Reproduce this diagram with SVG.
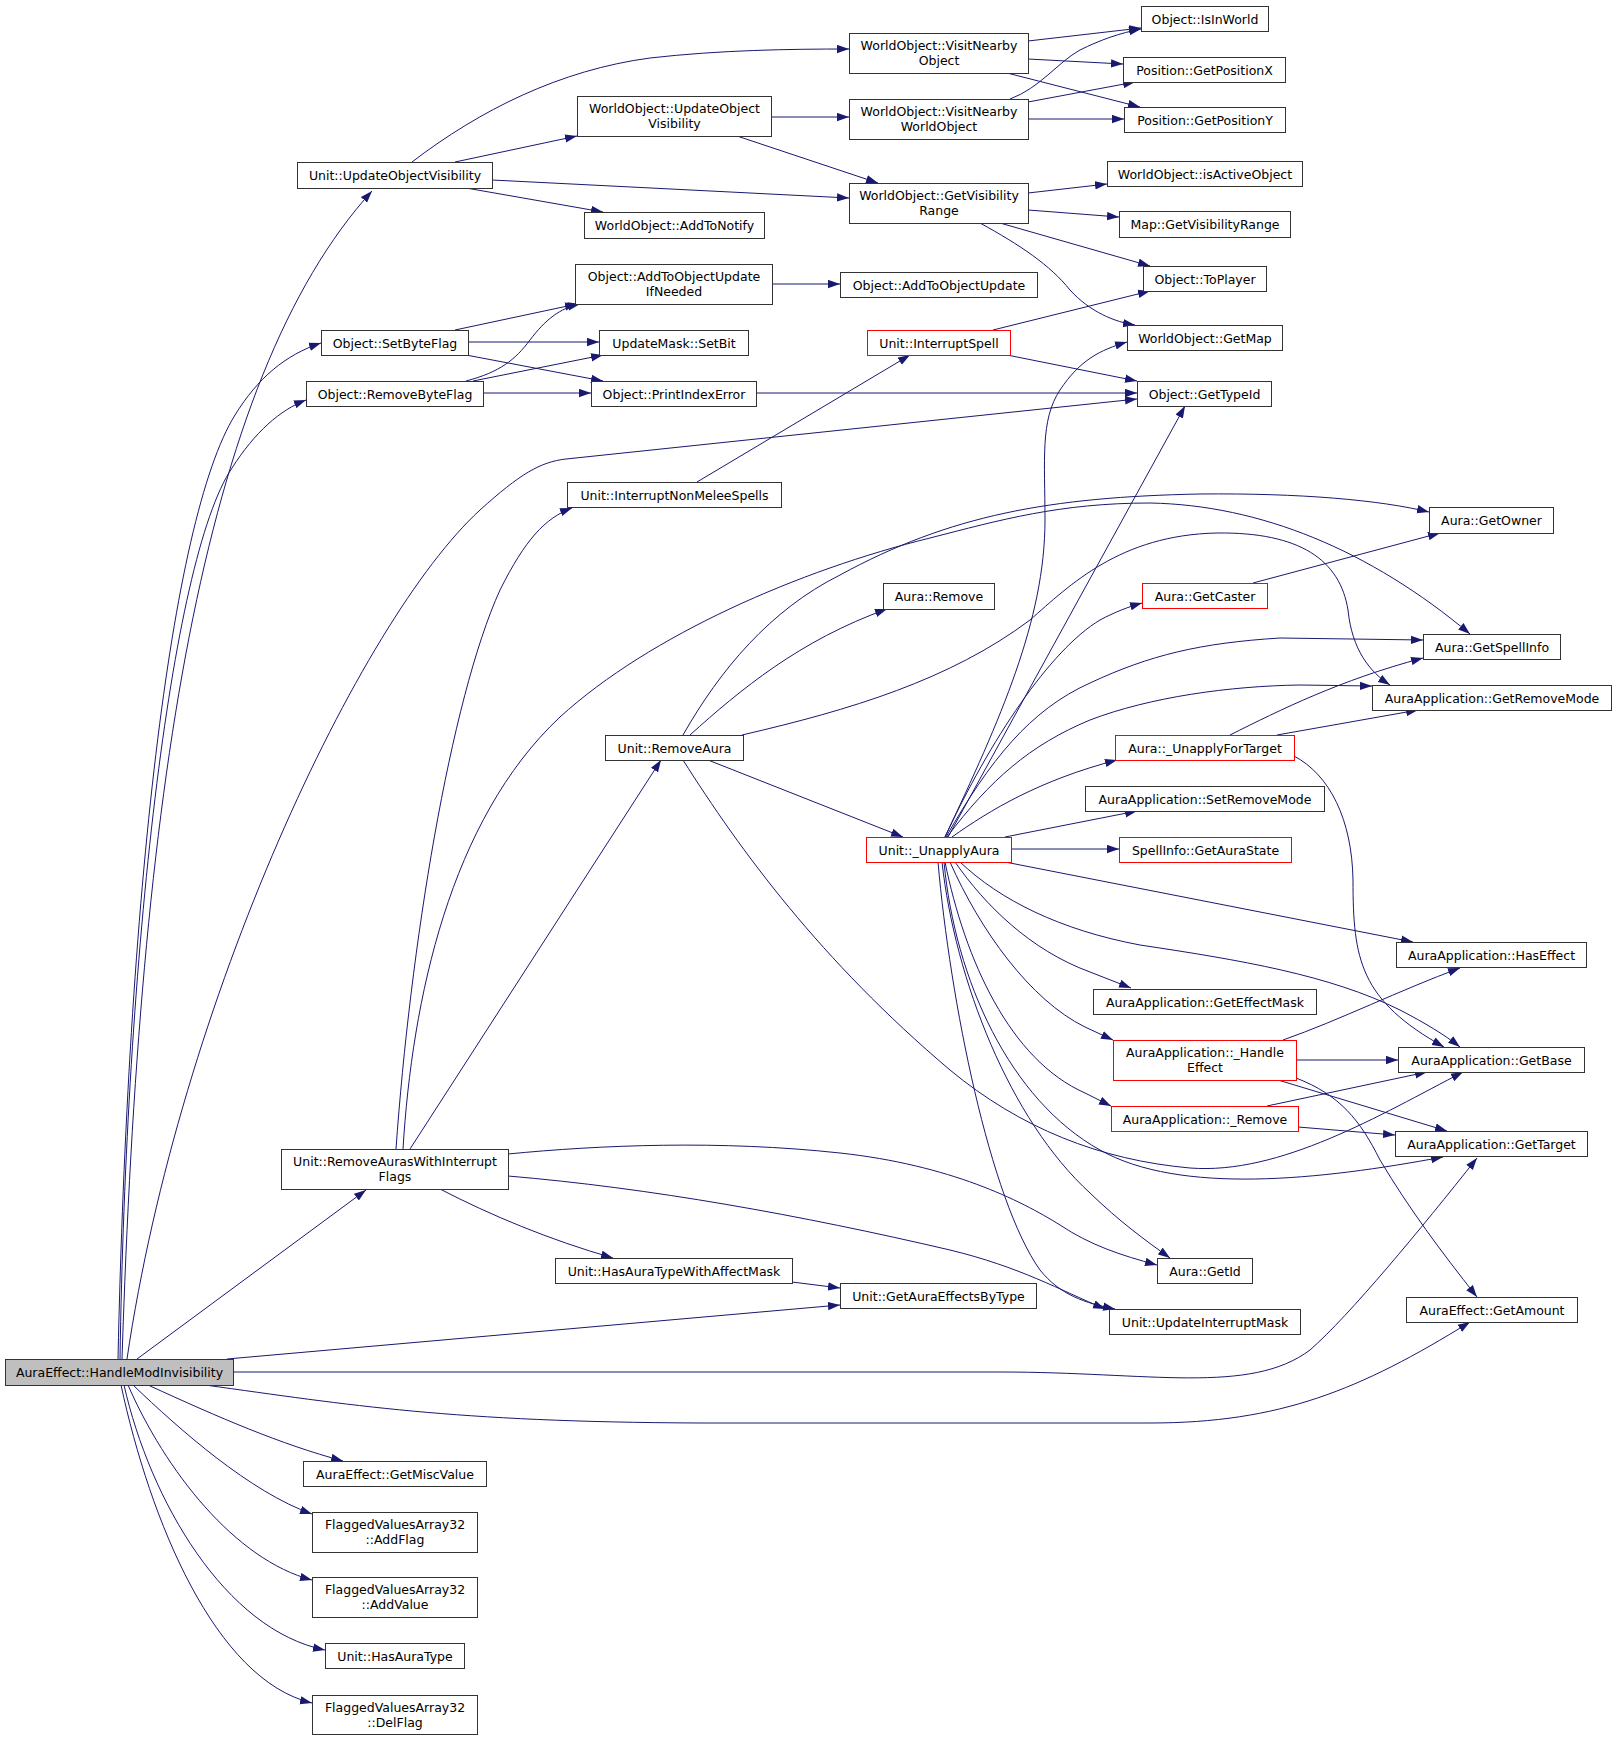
<svg xmlns="http://www.w3.org/2000/svg" width="1616" height="1741" viewBox="0 0 1616 1741">
<style>
.node rect{fill:#fff;stroke:#333333;stroke-width:1}
.red rect{stroke:#ff0000}
.root rect{fill:#bfbfbf}
text{font-family:"DejaVu Sans","Liberation Sans",sans-serif;font-size:12.5px;text-anchor:middle;fill:#000}
.edges path{fill:none;stroke:#191970;stroke-width:1;marker-end:url(#arr)}
</style>
<defs>
<marker id="arr" markerWidth="12" markerHeight="9" refX="12" refY="4.5" orient="auto" markerUnits="userSpaceOnUse" viewBox="0 0 12 9"><path d="M0,0.3 L12,4.5 L0,8.7 z" fill="#191970"/></marker>
</defs>
<rect width="1616" height="1741" fill="#fff"/>
<g class="edges">
<path d="M122,1359 C140,800 200,380 372,191"/>
<path d="M118,1359 C128,900 170,520 235,415 C258,378 285,355 321,343"/>
<path d="M120,1359 C126,960 170,560 232,468 C255,432 280,410 306,400"/>
<path d="M127,1359 C180,1000 360,620 480,510 C520,474 540,462 566,459 L1137,399"/>
<path d="M137,1359 L366,1190"/>
<path d="M227,1359 L840,1305"/>
<path d="M233,1372 L1000,1372 C1150,1372 1250,1395 1310,1350 C1350,1315 1420,1230 1477,1158"/>
<path d="M205,1385 C350,1405 450,1422 700,1423 L1150,1423 C1280,1423 1360,1390 1470,1322"/>
<path d="M148,1385 C220,1418 280,1444 343,1461"/>
<path d="M133,1385 C180,1430 250,1492 312,1514"/>
<path d="M128,1385 C165,1470 235,1560 312,1580"/>
<path d="M124,1385 C150,1500 225,1630 325,1650"/>
<path d="M121,1385 C150,1520 215,1680 312,1703"/>
<path d="M412,162 C480,110 560,70 650,58 C720,50 790,49 849,49"/>
<path d="M455,162 L577,136"/>
<path d="M492,180 L849,198"/>
<path d="M466,188 L603,212"/>
<path d="M771,117 L849,117"/>
<path d="M737,136 L878,183"/>
<path d="M1028,41 L1141,28"/>
<path d="M1028,59 L1123,64"/>
<path d="M1007,73 L1140,107"/>
<path d="M1010,99 C1040,88 1058,62 1080,50 C1100,40 1120,33 1141,29"/>
<path d="M1028,102 L1135,82"/>
<path d="M1028,119 L1124,119"/>
<path d="M1028,193 L1107,184"/>
<path d="M1028,210 L1119,217"/>
<path d="M1000,223 L1150,266"/>
<path d="M980,223 C1020,245 1050,265 1070,290 C1090,312 1115,322 1135,325"/>
<path d="M772,284 L840,284"/>
<path d="M455,330 L577,304"/>
<path d="M468,342 L599,342"/>
<path d="M466,355 L603,381"/>
<path d="M466,381 C500,372 515,360 530,340 C545,320 560,308 580,304"/>
<path d="M473,381 L603,355"/>
<path d="M483,393 L591,393"/>
<path d="M756,393 L1137,393"/>
<path d="M993,330 L1150,291"/>
<path d="M1007,355 L1137,381"/>
<path d="M697,482 L910,355"/>
<path d="M396,1149 C410,950 450,700 500,590 C525,540 545,518 572,508"/>
<path d="M410,1149 L661,760"/>
<path d="M403,1149 C412,1000 450,820 560,717 C650,635 800,570 930,538 C1000,520 1060,503 1150,503 C1260,505 1370,550 1470,634"/>
<path d="M683,735 C720,670 770,610 840,575 C950,515 1050,497 1200,494 C1300,493 1380,500 1429,512"/>
<path d="M690,735 C740,690 800,640 887,609"/>
<path d="M742,735 C850,710 950,680 1030,620 C1070,585 1120,535 1217,533 C1300,532 1340,560 1348,610 C1352,650 1370,672 1390,685"/>
<path d="M708,760 L903,837"/>
<path d="M683,760 C740,850 820,960 950,1070 C1020,1128 1100,1160 1190,1168 C1280,1175 1380,1115 1463,1072"/>
<path d="M1253,583 L1440,533"/>
<path d="M945,837 C1000,720 1045,620 1045,520 C1045,460 1040,420 1060,390 C1080,360 1100,350 1127,342"/>
<path d="M948,837 L1185,406"/>
<path d="M945,837 C990,740 1050,650 1100,620 C1115,612 1128,607 1142,603"/>
<path d="M946,837 C990,760 1030,710 1090,683 C1150,655 1200,643 1280,638 L1423,640"/>
<path d="M947,837 C990,780 1030,745 1090,720 C1150,697 1230,686 1300,685 L1372,686"/>
<path d="M952,837 C990,810 1040,780 1117,760"/>
<path d="M1005,837 L1137,811"/>
<path d="M1011,849 L1119,849"/>
<path d="M1005,862 L1413,942"/>
<path d="M960,862 C1000,900 1060,930 1140,945 C1240,960 1330,975 1400,1010 C1425,1023 1445,1035 1460,1047"/>
<path d="M955,862 C985,905 1030,950 1090,972 L1131,988"/>
<path d="M950,862 C980,930 1030,1000 1085,1027 L1113,1040"/>
<path d="M945,862 C965,960 1010,1060 1085,1093 L1111,1106"/>
<path d="M944,862 C955,980 1010,1100 1100,1150 C1180,1195 1320,1180 1443,1157"/>
<path d="M942,862 C955,980 1010,1120 1090,1193 C1120,1222 1145,1240 1170,1258"/>
<path d="M938,862 C950,1000 990,1200 1040,1270 C1060,1295 1085,1303 1115,1309"/>
<path d="M1230,735 C1280,710 1340,680 1423,658"/>
<path d="M1277,735 L1418,710"/>
<path d="M1294,756 C1330,775 1352,820 1353,880 C1353,960 1360,1000 1444,1047"/>
<path d="M1283,1040 C1340,1020 1400,990 1460,968"/>
<path d="M1296,1060 L1398,1060"/>
<path d="M1278,1080 L1447,1131"/>
<path d="M1296,1078 C1340,1095 1360,1120 1380,1160 C1410,1210 1440,1250 1477,1297"/>
<path d="M1267,1106 L1427,1072"/>
<path d="M1298,1127 L1395,1135"/>
<path d="M508,1154 C600,1145 720,1140 840,1153 C950,1165 1020,1200 1060,1225 C1090,1245 1120,1255 1157,1265"/>
<path d="M508,1176 C650,1188 800,1215 950,1250 C1020,1267 1060,1290 1105,1309"/>
<path d="M440,1189 C490,1215 550,1240 613,1258"/>
<path d="M792,1282 L840,1288"/>
</g>
<g id="n0" class="node root"><rect x="5.5" y="1359.5" width="228" height="26"/><text x="119.5" y="1377">AuraEffect::HandleModInvisibility</text></g>
<g id="n1" class="node"><rect x="297.5" y="162.5" width="195" height="26"/><text x="395" y="180">Unit::UpdateObjectVisibility</text></g>
<g id="n2" class="node"><rect x="849.5" y="33.5" width="179" height="40"/><text x="939" y="50">WorldObject::VisitNearby</text><text x="939" y="65">Object</text></g>
<g id="n3" class="node"><rect x="577.5" y="96.5" width="194" height="40"/><text x="674.5" y="113">WorldObject::UpdateObject</text><text x="674.5" y="128">Visibility</text></g>
<g id="n4" class="node"><rect x="849.5" y="99.5" width="179" height="40"/><text x="939" y="116">WorldObject::VisitNearby</text><text x="939" y="131">WorldObject</text></g>
<g id="n5" class="node"><rect x="849.5" y="183.5" width="179" height="40"/><text x="939" y="200">WorldObject::GetVisibility</text><text x="939" y="215">Range</text></g>
<g id="n6" class="node"><rect x="584.5" y="212.5" width="180" height="26"/><text x="674.5" y="230">WorldObject::AddToNotify</text></g>
<g id="n7" class="node"><rect x="1141.5" y="6.5" width="127" height="25"/><text x="1205" y="23.5">Object::IsInWorld</text></g>
<g id="n8" class="node"><rect x="1123.5" y="57.5" width="162" height="25"/><text x="1204.5" y="74.5">Position::GetPositionX</text></g>
<g id="n9" class="node"><rect x="1124.5" y="107.5" width="161" height="25"/><text x="1205" y="124.5">Position::GetPositionY</text></g>
<g id="n10" class="node"><rect x="1107.5" y="161.5" width="195" height="25"/><text x="1205" y="178.5">WorldObject::isActiveObject</text></g>
<g id="n11" class="node"><rect x="1119.5" y="211.5" width="171" height="26"/><text x="1205" y="229">Map::GetVisibilityRange</text></g>
<g id="n12" class="node"><rect x="1143.5" y="266.5" width="123" height="25"/><text x="1205" y="283.5">Object::ToPlayer</text></g>
<g id="n13" class="node"><rect x="575.5" y="264.5" width="197" height="40"/><text x="674" y="281">Object::AddToObjectUpdate</text><text x="674" y="296">IfNeeded</text></g>
<g id="n14" class="node"><rect x="840.5" y="272.5" width="197" height="25"/><text x="939" y="289.5">Object::AddToObjectUpdate</text></g>
<g id="n15" class="node"><rect x="321.5" y="330.5" width="147" height="25"/><text x="395" y="347.5">Object::SetByteFlag</text></g>
<g id="n16" class="node"><rect x="599.5" y="330.5" width="149" height="25"/><text x="674" y="347.5">UpdateMask::SetBit</text></g>
<g id="n17" class="node red"><rect x="867.5" y="330.5" width="143" height="25"/><text x="939" y="347.5">Unit::InterruptSpell</text></g>
<g id="n18" class="node"><rect x="1127.5" y="325.5" width="155" height="25"/><text x="1205" y="342.5">WorldObject::GetMap</text></g>
<g id="n19" class="node"><rect x="306.5" y="381.5" width="177" height="25"/><text x="395" y="398.5">Object::RemoveByteFlag</text></g>
<g id="n20" class="node"><rect x="591.5" y="381.5" width="165" height="25"/><text x="674" y="398.5">Object::PrintIndexError</text></g>
<g id="n21" class="node"><rect x="1137.5" y="381.5" width="134" height="25"/><text x="1204.5" y="398.5">Object::GetTypeId</text></g>
<g id="n22" class="node"><rect x="567.5" y="482.5" width="214" height="25"/><text x="674.5" y="499.5">Unit::InterruptNonMeleeSpells</text></g>
<g id="n23" class="node"><rect x="1429.5" y="507.5" width="124" height="26"/><text x="1491.5" y="525">Aura::GetOwner</text></g>
<g id="n24" class="node"><rect x="883.5" y="583.5" width="111" height="26"/><text x="939" y="601">Aura::Remove</text></g>
<g id="n25" class="node red"><rect x="1142.5" y="583.5" width="125" height="25"/><text x="1205" y="600.5">Aura::GetCaster</text></g>
<g id="n26" class="node"><rect x="1423.5" y="634.5" width="137" height="25"/><text x="1492" y="651.5">Aura::GetSpellInfo</text></g>
<g id="n27" class="node"><rect x="1372.5" y="685.5" width="239" height="25"/><text x="1492" y="702.5">AuraApplication::GetRemoveMode</text></g>
<g id="n28" class="node"><rect x="605.5" y="735.5" width="138" height="25"/><text x="674.5" y="752.5">Unit::RemoveAura</text></g>
<g id="n29" class="node red"><rect x="1115.5" y="735.5" width="179" height="25"/><text x="1205" y="752.5">Aura::_UnapplyForTarget</text></g>
<g id="n30" class="node"><rect x="1085.5" y="786.5" width="239" height="25"/><text x="1205" y="803.5">AuraApplication::SetRemoveMode</text></g>
<g id="n31" class="node red"><rect x="866.5" y="837.5" width="145" height="25"/><text x="939" y="854.5">Unit::_UnapplyAura</text></g>
<g id="n32" class="node red"><rect x="1119.5" y="837.5" width="172" height="25"/><text x="1205.5" y="854.5">SpellInfo::GetAuraState</text></g>
<g id="n33" class="node"><rect x="1396.5" y="942.5" width="190" height="25"/><text x="1491.5" y="959.5">AuraApplication::HasEffect</text></g>
<g id="n34" class="node"><rect x="1093.5" y="989.5" width="223" height="25"/><text x="1205" y="1006.5">AuraApplication::GetEffectMask</text></g>
<g id="n35" class="node red"><rect x="1113.5" y="1040.5" width="183" height="40"/><text x="1205" y="1057">AuraApplication::_Handle</text><text x="1205" y="1072">Effect</text></g>
<g id="n36" class="node"><rect x="1398.5" y="1047.5" width="186" height="25"/><text x="1491.5" y="1064.5">AuraApplication::GetBase</text></g>
<g id="n37" class="node red"><rect x="1111.5" y="1106.5" width="187" height="25"/><text x="1205" y="1123.5">AuraApplication::_Remove</text></g>
<g id="n38" class="node"><rect x="1395.5" y="1131.5" width="192" height="25"/><text x="1491.5" y="1148.5">AuraApplication::GetTarget</text></g>
<g id="n39" class="node"><rect x="281.5" y="1149.5" width="227" height="40"/><text x="395" y="1166">Unit::RemoveAurasWithInterrupt</text><text x="395" y="1181">Flags</text></g>
<g id="n40" class="node"><rect x="1157.5" y="1258.5" width="95" height="25"/><text x="1205" y="1275.5">Aura::GetId</text></g>
<g id="n41" class="node"><rect x="555.5" y="1258.5" width="237" height="25"/><text x="674" y="1275.5">Unit::HasAuraTypeWithAffectMask</text></g>
<g id="n42" class="node"><rect x="840.5" y="1283.5" width="196" height="25"/><text x="938.5" y="1300.5">Unit::GetAuraEffectsByType</text></g>
<g id="n43" class="node"><rect x="1109.5" y="1309.5" width="191" height="25"/><text x="1205" y="1326.5">Unit::UpdateInterruptMask</text></g>
<g id="n44" class="node"><rect x="1406.5" y="1297.5" width="171" height="25"/><text x="1492" y="1314.5">AuraEffect::GetAmount</text></g>
<g id="n45" class="node"><rect x="303.5" y="1461.5" width="183" height="25"/><text x="395" y="1478.5">AuraEffect::GetMiscValue</text></g>
<g id="n46" class="node"><rect x="312.5" y="1512.5" width="165" height="40"/><text x="395" y="1529">FlaggedValuesArray32</text><text x="395" y="1544">::AddFlag</text></g>
<g id="n47" class="node"><rect x="312.5" y="1577.5" width="165" height="40"/><text x="395" y="1594">FlaggedValuesArray32</text><text x="395" y="1609">::AddValue</text></g>
<g id="n48" class="node"><rect x="325.5" y="1643.5" width="139" height="25"/><text x="395" y="1660.5">Unit::HasAuraType</text></g>
<g id="n49" class="node"><rect x="312.5" y="1695.5" width="165" height="39"/><text x="395" y="1712">FlaggedValuesArray32</text><text x="395" y="1727">::DelFlag</text></g>
</svg>
